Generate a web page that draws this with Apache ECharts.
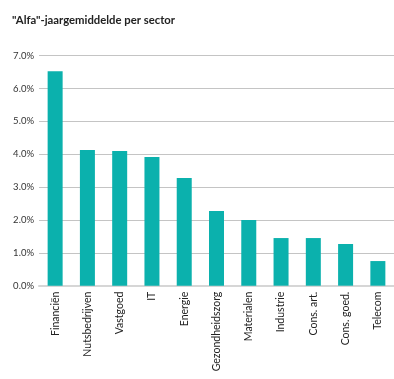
<!DOCTYPE html>
<html><head><meta charset="utf-8">
<script src="https://cdn.jsdelivr.net/npm/echarts@6/dist/echarts.min.js"></script>
<style>html,body{margin:0;padding:0;background:#fff}#c{width:394px;height:379px}</style>
</head><body><div id="c"></div>
<script>
const title = '"Alfa"-jaargemiddelde per sector';
const categories = ['Financiën','Nutsbedrijven','Vastgoed','IT','Energie','Gezondheidszorg','Materialen','Industrie','Cons. art.','Cons. goed.','Telecom'];
const values = [6.53, 4.13, 4.10, 3.92, 3.28, 2.27, 2.00, 1.45, 1.45, 1.27, 0.75];
const yTicks = [0,1,2,3,4,5,6,7];

const chart = echarts.init(document.getElementById('c'), null, {renderer:'canvas'});
const font = 'Lato, "Noto Sans", sans-serif';
chart.setOption({
  animation:false,
  title:{text:title,left:7,top:10,textStyle:{fontFamily:font,fontSize:11.3,fontWeight:'bold',color:'#222'}},
  grid:{left:39,top:55.7,width:359,bottom:93.3,containLabel:false},
  xAxis:{type:'category',data:categories,
    axisLine:{show:true,lineStyle:{color:'#d6d6d6',width:2}},
    axisTick:{show:false},
    axisLabel:{rotate:90,interval:0,margin:6,fontFamily:font,fontSize:10.5,color:'#222'}},
  yAxis:{type:'value',min:yTicks[0],max:yTicks[yTicks.length-1],interval:1,
    axisLine:{show:false},axisTick:{show:false},
    splitLine:{lineStyle:{color:'#c4c4c4',width:1}},
    axisLabel:{formatter:v=>v.toFixed(1)+'%',margin:5,fontFamily:font,fontSize:9.5,color:'#333'}},
  series:[{type:'bar',data:values,barWidth:15,itemStyle:{color:'#0bb1ad'}}]
});
</script></body></html>
